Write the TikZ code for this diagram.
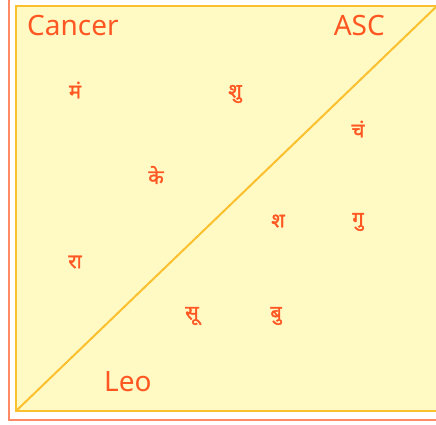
\documentclass[tikz,border=0pt]{standalone}
\usepackage{fontspec}
\setmainfont{Noto Sans}
\newfontfamily\devafont[Script=Devanagari, FakeBold=1.6]{Noto Sans}
\definecolor{frameline}{HTML}{FF8A65}
\definecolor{boxfill}{HTML}{FFF9C4}
\definecolor{boxline}{HTML}{FBC02D}
\definecolor{signtext}{HTML}{FF5722}

\begin{document}
\begin{tikzpicture}[x=1pt,y=-1pt,
  sign/.style={font=\fontsize{28}{28}\selectfont, text=signtext, inner sep=0pt},
  graha/.style={font=\devafont\fontsize{20}{20}\selectfont, text=signtext, inner sep=0pt}]
  \useasboundingbox (0,0) rectangle (436,424);
  \clip (0,0) rectangle (436,424);

  % outer frame and chart box
  \draw[frameline, line width=2.2pt] (9,-10) rectangle (450,420);
  \draw[fill=boxfill, draw=boxline, line width=1.2pt] (16,6) rectangle (437,411);
  \coordinate (lowleft) at (16,411);
  \coordinate (upright) at (437,6);
  \draw[boxline, line width=2pt] (lowleft) -- (upright);

  % sign labels
  \node[sign, anchor=west] (cancer) at (27,25) {Cancer};
  \node[sign, anchor=east] (asc) at (385,25) {ASC};
  \node[sign, anchor=west] (leo) at (104,382) {Leo};

  % planets
  \node[graha] (mangal) at (75,90) {मं};
  \node[graha] (shukra) at (235,94) {शु};
  \node[graha] (chandra) at (358,129) {चं};
  \node[graha] (ketu) at (156,175) {के};
  \node[graha] (shani) at (278,221) {श};
  \node[graha] (guru) at (358,222) {गु};
  \node[graha] (rahu) at (75,262) {रा};
  \node[graha] (surya) at (192,316) {सू};
  \node[graha] (budh) at (276,316) {बु};

\end{tikzpicture}
\end{document}
